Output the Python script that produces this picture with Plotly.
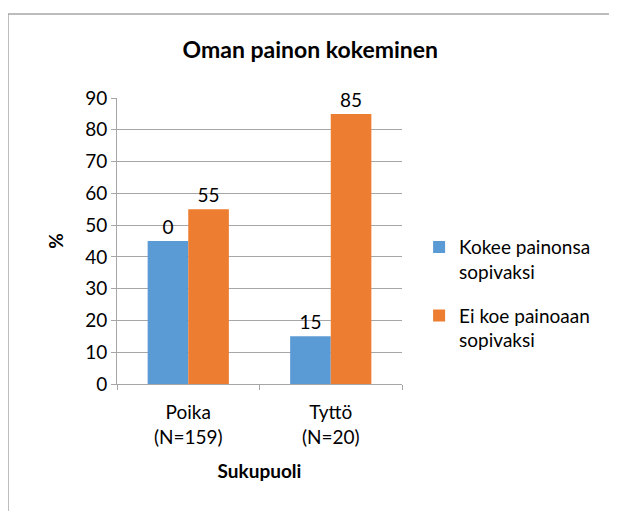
import plotly.graph_objects as go

# ── Data ─────────────────────────────────────────────────────────────────
categories = ["Poika<br>(N=159)", "Tyttö<br>(N=20)"]
series_names = ["Kokee painonsa<br>sopivaksi", "Ei koe painoaan<br>sopivaksi"]
kokee_values = [45, 15]
ei_koe_values = [55, 85]
kokee_labels = ["0", "15"]
ei_koe_labels = ["55", "85"]

COLORS = ["#5B9BD5", "#ED7D31"]
FONT = "Lato, 'Open Sans', sans-serif"

fig = go.Figure()

for i, (name, vals, labels, color) in enumerate([
    (series_names[0], kokee_values, kokee_labels, COLORS[0]),
    (series_names[1], ei_koe_values, ei_koe_labels, COLORS[1]),
]):
    fig.add_trace(
        go.Bar(
            x=categories,
            y=vals,
            name=name,
            legendgroup=f"g{i}",
            marker=dict(color=color, line=dict(width=0)),
            text=labels,
            textposition="outside",
            textfont=dict(size=19, color="#000000"),
            cliponaxis=False,
        )
    )

# ── Outer chart border (plot area is 285 x 286 px) ───────────────────────
fig.add_shape(
    type="rect", xref="paper", yref="paper",
    x0=-0.3825, x1=1.80, y0=-0.50, y1=1.2937,
    line=dict(color="#A6A6A6", width=1.5), fillcolor="rgba(0,0,0,0)",
)

fig.update_layout(
    width=617,
    height=511,
    title=dict(
        text="<b>Oman painon kokeminen</b>",
        font=dict(size=23, color="#000000", family=FONT),
        x=0.49, xref="container", xanchor="center",
        y=(511 - 42) / 511, yanchor="middle",
    ),
    font=dict(family=FONT, size=19, color="#000000"),
    barmode="group",
    bargap=0.43,
    bargroupgap=0,
    plot_bgcolor="white",
    paper_bgcolor="white",
    margin=dict(l=109, r=223, t=90, b=135),
    showlegend=True,
    legend=dict(
        x=1.06, y=0.545, xanchor="left", yanchor="top",
        font=dict(size=19, family=FONT),
        tracegroupgap=16,
        valign="top",
        itemsizing="constant",
        bgcolor="rgba(0,0,0,0)",
    ),
    xaxis=dict(
        title=dict(text="<b>Sukupuoli</b>", font=dict(size=19), standoff=18),
        tickson="boundaries",
        ticks="outside",
        ticklen=5,
        tickcolor="#A6A6A6",
        ticklabelstandoff=11,
        showline=True,
        linecolor="#A6A6A6",
        showgrid=False,
        tickfont=dict(size=19),
    ),
    yaxis=dict(
        title=dict(text="<b>%</b>", font=dict(size=19), standoff=16),
        range=[0, 90],
        dtick=10,
        ticks="outside",
        ticklen=5,
        tickcolor="#A6A6A6",
        showline=True,
        linecolor="#A6A6A6",
        showgrid=True,
        gridcolor="#A6A6A6",
        zeroline=False,
        tickfont=dict(size=19),
    ),
)

fig.write_html("out.html")
